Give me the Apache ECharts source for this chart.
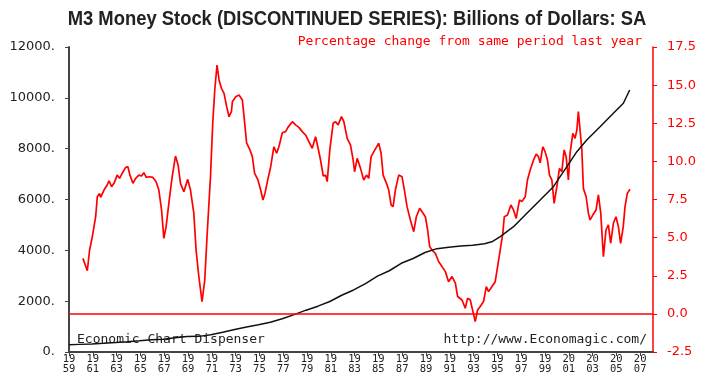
<!DOCTYPE html>
<html><head><meta charset="utf-8">
<script src="https://cdn.jsdelivr.net/npm/echarts@6/dist/echarts.min.js"></script>
<style>html,body{margin:0;padding:0;background:#fff}#c{width:720px;height:379px}</style>
</head><body><div id="c"></div>
<script>
// M3 money stock, billions of dollars (left axis)
const m3Years = [1959.0,1959.92,1960.92,1961.92,1962.92,1963.92,1964.92,1965.92,1966.92,1967.92,1968.92,1969.92,1970.92,1971.92,1972.92,1973.92,1974.92,1975.92,1976.92,1977.92,1978.92,1979.92,1980.92,1981.92,1982.92,1983.92,1984.92,1985.92,1986.92,1987.92,1988.92,1989.92,1990.92,1991.92,1992.92,1993.92,1994.6,1995.24,1996.36,1997.48,1998.6,1999.71,2000.84,2001.68,2002.51,2003.63,2004.75,2005.59,2006.12];
const m3Values = [287,300,315,341,372,405,441,482,505,557,607,615,677,776,886,985,1070,1170,1311,1472,1646,1803,1987,2234,2441,2693,2985,3197,3490,3678,3915,4066,4122,4170,4200,4262,4350,4537,4930,5457,5980,6504,7291,7881,8341,8865,9391,9785,10308];
// Percentage change from same period last year (right axis)
const pctYears = [1960.17,1960.54,1960.73,1960.96,1961.24,1961.38,1961.57,1961.66,1961.94,1962.21,1962.36,1962.58,1962.78,1963.05,1963.25,1963.47,1963.76,1963.95,1964.12,1964.37,1964.6,1964.87,1965.1,1965.29,1965.49,1965.77,1966.05,1966.32,1966.55,1966.78,1966.97,1967.16,1967.39,1967.67,1967.95,1968.17,1968.37,1968.65,1968.79,1968.98,1969.21,1969.49,1969.68,1969.91,1970.18,1970.41,1970.6,1970.89,1971.08,1971.25,1971.44,1971.61,1971.81,1972.03,1972.25,1972.45,1972.65,1972.73,1973.01,1973.29,1973.57,1973.71,1973.93,1974.21,1974.41,1974.6,1974.88,1975.11,1975.3,1975.47,1975.67,1975.95,1976.22,1976.45,1976.64,1976.93,1977.2,1977.4,1977.77,1978.04,1978.32,1978.6,1978.88,1979.16,1979.44,1979.72,1979.91,1980.14,1980.37,1980.56,1980.7,1980.92,1981.2,1981.4,1981.62,1981.9,1982.1,1982.38,1982.66,1982.88,1983.0,1983.22,1983.5,1983.77,1984.0,1984.19,1984.39,1984.67,1985.03,1985.23,1985.4,1985.68,1985.87,1986.07,1986.24,1986.43,1986.71,1986.99,1987.19,1987.41,1987.69,1987.97,1988.19,1988.47,1988.76,1988.95,1989.14,1989.31,1989.51,1989.79,1990.07,1990.35,1990.63,1990.9,1991.19,1991.47,1991.66,1992.03,1992.3,1992.5,1992.72,1992.95,1993.14,1993.34,1993.56,1993.84,1994.07,1994.26,1994.55,1994.82,1995.02,1995.24,1995.46,1995.58,1995.85,1996.14,1996.36,1996.58,1996.86,1997.06,1997.34,1997.53,1997.76,1998.04,1998.26,1998.45,1998.6,1998.82,1999.01,1999.21,1999.38,1999.58,1999.77,2000.0,2000.22,2000.42,2000.61,2000.78,2000.97,2001.11,2001.34,2001.53,2001.68,2001.81,2001.95,2002.1,2002.23,2002.46,2002.65,2002.79,2003.02,2003.29,2003.49,2003.69,2003.91,2004.13,2004.33,2004.52,2004.75,2004.97,2005.17,2005.36,2005.58,2005.73,2005.92,2006.15];
const pctValues = [3.64,2.83,4.19,5.06,6.37,7.68,7.9,7.64,8.12,8.45,8.73,8.34,8.56,9.1,8.89,9.22,9.61,9.65,9.1,8.56,8.89,9.1,9.04,9.26,8.95,8.99,8.95,8.67,8.12,6.81,4.95,5.72,7.25,8.99,10.35,9.76,8.56,8.01,8.12,8.82,8.12,6.6,4.19,2.45,0.81,2.22,5.06,8.99,12.5,14.68,16.32,15.34,14.79,14.46,13.59,12.93,13.26,13.91,14.24,14.35,14.02,12.93,11.19,10.75,10.31,9.22,8.78,8.12,7.47,7.9,8.67,9.65,10.96,10.53,10.96,11.88,11.95,12.23,12.6,12.39,12.23,11.95,11.73,11.29,10.86,11.62,10.96,10.09,9.04,9.1,8.67,10.75,12.5,12.6,12.39,12.93,12.6,11.51,11.07,10.09,9.32,10.2,9.54,8.78,9.1,8.89,10.31,10.7,11.19,10.53,9.1,8.56,8.12,7.14,7.03,8.12,9.1,8.99,8.12,7.03,6.16,5.39,6.37,6.92,6.6,6.37,5.5,4.41,4.19,3.97,3.42,3.1,2.77,2.11,2.45,2.01,1.14,0.91,0.37,1.03,0.91,0.15,-0.51,0.26,0.48,0.81,1.79,1.46,1.79,2.11,3.1,4.19,5.28,6.37,6.48,7.14,6.81,6.26,7.47,7.36,7.68,8.78,9.43,10.09,10.48,10.31,9.91,10.96,10.64,10.09,9.1,8.78,7.25,8.34,9.54,9.32,10.75,10.31,8.78,10.53,11.84,11.51,12.06,13.26,12.06,10.75,8.23,7.68,6.6,6.16,6.48,6.81,7.8,6.6,3.75,5.5,5.83,4.63,5.94,6.37,5.72,4.63,5.72,7.03,7.9,8.17];
const xTickYears = [1959,1961,1963,1965,1967,1969,1971,1973,1975,1977,1979,1981,1983,1985,1987,1989,1991,1993,1995,1997,1999,2001,2003,2005,2007];
const titleText = 'M3 Money Stock (DISCONTINUED SERIES): Billions of Dollars: SA';
const subtitleText = 'Percentage change from same period last year';
const leftNote = 'Economic Chart Dispenser';
const rightNote = 'http://www.Economagic.com/';

const RED = '#ff0000';
const MONO = '"DejaVu Sans Mono", monospace';
const chart = echarts.init(document.getElementById('c'), null, {renderer: 'canvas'});
chart.setOption({
  animation: false,
  backgroundColor: '#ffffff',
  grid: {left: 69, right: 67, top: 47, bottom: 27, containLabel: false},
  xAxis: {
    type: 'value', min: 1959, max: 2008.08,
    axisLine: {show: true, onZero: false, lineStyle: {color: '#444', width: 2}},
    axisTick: {show: true, length: 4, customValues: xTickYears, lineStyle: {color: '#444', width: 1}},
    axisLabel: {
      customValues: xTickYears, margin: 3,
      fontFamily: MONO, fontSize: 10.5, lineHeight: 9.5, color: '#222',
      formatter: v => { const s = String(Math.round(v)); return s.slice(0, 2) + '\n' + s.slice(2); }
    },
    splitLine: {show: false}
  },
  yAxis: [
    {
      type: 'value', min: 0, max: 12000, interval: 2000, position: 'left',
      axisLine: {show: true, onZero: false, lineStyle: {color: '#444', width: 2}},
      axisTick: {show: true, length: 4, lineStyle: {color: '#444'}},
      axisLabel: {margin: 14, fontFamily: '"DejaVu Sans", sans-serif', fontSize: 13, color: '#222', formatter: v => v + '.'},
      splitLine: {show: false}
    },
    {
      type: 'value', min: -2.5, max: 17.5, interval: 2.5, position: 'right',
      axisLine: {show: true, onZero: false, lineStyle: {color: RED, width: 1.5}},
      axisTick: {show: true, length: 4, lineStyle: {color: RED}},
      axisLabel: {margin: 14, fontFamily: '"DejaVu Sans", sans-serif', fontSize: 13, color: RED, formatter: v => v.toFixed(1)},
      splitLine: {show: false}
    }
  ],
  graphic: [
    {type: 'text', x: 357, y: 19, scaleX: 0.92, silent: true,
     style: {text: titleText, fill: '#222', textAlign: 'center', textVerticalAlign: 'middle',
             font: 'bold 20px "Liberation Sans", Arial, sans-serif'}},
    {type: 'text', right: 78, top: 35, style: {text: subtitleText, fill: RED, font: '13px ' + MONO}},
    {type: 'text', left: 77, top: 333, style: {text: leftNote, fill: '#222', font: '13px ' + MONO}},
    {type: 'text', right: 73, top: 333, style: {text: rightNote, fill: '#222', font: '13px ' + MONO}}
  ],
  series: [
    {
      type: 'line', yAxisIndex: 1, showSymbol: false, z: 3,
      data: pctYears.map((y, i) => [y, pctValues[i]]),
      lineStyle: {color: RED, width: 1.7},
      markLine: {
        silent: true, symbol: 'none', label: {show: false},
        lineStyle: {color: RED, width: 1.5, type: 'solid'},
        data: [{yAxis: 0}]
      }
    },
    {
      type: 'line', yAxisIndex: 0, showSymbol: false, z: 4,
      data: m3Years.map((y, i) => [y, m3Values[i]]),
      lineStyle: {color: '#111', width: 1.5}
    }
  ]
});
</script></body></html>
